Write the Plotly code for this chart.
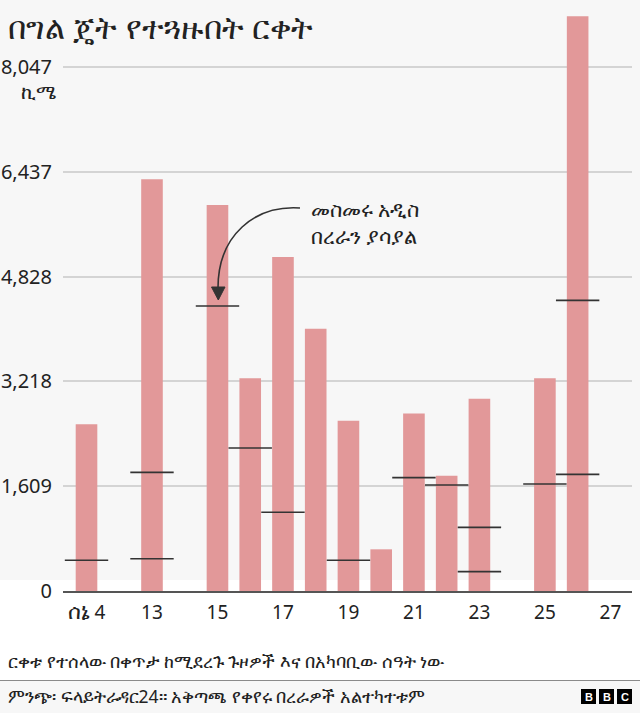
import plotly.graph_objects as go

# ---- data ----
slots = ["4", "…", "13", "14", "15", "16", "17", "18", "19", "20", "21", "22", "23", "24", "25", "26", "27"]
bar_days = ["4", "13", "15", "16", "17", "18", "19", "20", "21", "22", "23", "25", "26"]
bar_km = [2559, 6320, 5925, 3265, 5127, 4027, 2615, 640, 2727, 1770, 2952, 3265, 8826]
break_days = ["4", "13", "13", "15", "16", "17", "19", "21", "22", "23", "23", "25", "26", "26"]
break_km = [471, 496, 1822, 4375, 2195, 1208, 471, 1740, 1627, 297, 977, 1642, 1791, 4462]
xtick_vals = ["4", "13", "15", "17", "19", "21", "23", "25", "27"]
xtick_text = ["<span style='font-size:22px'>ሰኔ</span> 4", "13", "15", "17", "19", "21", "23", "25", "27"]
ytick_vals = [0, 1609, 3218, 4828, 6437, 8047]
ytick_text = ["0", "1,609", "3,218", "4,828", "6,437", "8,047"]

title = "በግል ጄት የተጓዙበት ርቀት"
unit = "ኪሜ"
note = "መስመሩ አዲስ<br>በረራን ያሳያል"
foot1 = "ርቀቱ የተሰላው በቀጥታ ከሚደረጉ ጉዞዎች እና በአካባቢው ሰዓት ነው"
foot2 = "ምንጭ፡ ፍላይትራዳር24። አቅጣጫ የቀየሩ በረራዎች አልተካተቱም"

W, H = 640, 713
L, R, T, B = 63, 8, 16, 122
PW, PH = W - L - R, H - T - B
FONT = "Noto Sans, DejaVu Sans, sans-serif"


def px(x, y):
    return (x - L) / PW, (H - B - y) / PH


fig = go.Figure()
fig.add_trace(go.Bar(x=bar_days, y=bar_km, marker=dict(color="#e29899", line=dict(width=0)),
                     hoverinfo="skip"))
fig.add_trace(go.Scatter(x=break_days, y=break_km, mode="markers",
                         marker=dict(symbol="line-ew", size=31, line=dict(color="#333333", width=1.6)),
                         hoverinfo="skip"))

shapes = []
x0, y0 = px(-5, 580)
x1, y1 = px(W + 5, 680)
shapes.append(dict(type="rect", xref="paper", yref="paper", x0=x0, x1=x1, y0=y0, y1=y1,
                   fillcolor="white", line=dict(width=0), layer="below"))
sx0, sy = px(0, 680.5)
sx1, _ = px(W, 680.5)
shapes.append(dict(type="line", xref="paper", yref="paper", x0=sx0, x1=sx1, y0=sy, y1=sy,
                   line=dict(color="#8a8a8a", width=1.2)))
p0 = px(300, 208); c1 = px(255, 205); c2 = px(218, 235); p3 = px(218, 288)
shapes.append(dict(type="path", xref="paper", yref="paper",
                   path=f"M {p0[0]},{p0[1]} C {c1[0]},{c1[1]} {c2[0]},{c2[1]} {p3[0]},{p3[1]}",
                   line=dict(color="#333333", width=1.6)))
a = px(211.5, 287); b = px(225, 287); c = px(218.3, 300)
shapes.append(dict(type="path", xref="paper", yref="paper",
                   path=f"M {a[0]},{a[1]} L {b[0]},{b[1]} L {c[0]},{c[1]} Z",
                   fillcolor="#333333", line=dict(color="#333333", width=1)))
annotations = []
for i, letter in enumerate(["B", "B", "C"]):
    lx0, ly0 = px(581 + i * 18, 689)
    lx1, ly1 = px(596 + i * 18, 704)
    shapes.append(dict(type="rect", xref="paper", yref="paper", x0=lx0, x1=lx1, y0=ly0, y1=ly1,
                       fillcolor="black", line=dict(width=0)))
    cx, cy = px(588.5 + i * 18, 696.5)
    annotations.append(dict(text=f"<b>{letter}</b>", x=cx, y=cy, xref="paper", yref="paper",
                            showarrow=False, xanchor="center", yanchor="middle",
                            font=dict(family="Liberation Sans, Arial", size=11, color="white")))

tx, ty = px(6, 26)
annotations.append(dict(text=title, x=tx, y=ty, xref="paper", yref="paper", showarrow=False,
                        xanchor="left", yanchor="middle", font=dict(family=FONT, size=32, color="#222222")))
ux, uy = px(58, 91)
annotations.append(dict(text=unit, x=ux, y=uy, xref="paper", yref="paper", showarrow=False,
                        xanchor="right", yanchor="middle", font=dict(family=FONT, size=20, color="#222222")))
nx, ny = px(309, 222)
annotations.append(dict(text=note, x=nx, y=ny, xref="paper", yref="paper", showarrow=False,
                        xanchor="left", yanchor="middle", align="left",
                        font=dict(family=FONT, size=21, color="#222222")))
f1x, f1y = px(6, 661)
annotations.append(dict(text=foot1, x=f1x, y=f1y, xref="paper", yref="paper", showarrow=False,
                        xanchor="left", yanchor="middle", font=dict(family=FONT, size=17.5, color="#222222")))
f2x, f2y = px(6, 696)
annotations.append(dict(text=foot2, x=f2x, y=f2y, xref="paper", yref="paper", showarrow=False,
                        xanchor="left", yanchor="middle", font=dict(family=FONT, size=17.5, color="#222222")))

fig.update_layout(
    width=W, height=H, margin=dict(l=L, r=R, t=T, b=B, pad=0, autoexpand=False),
    paper_bgcolor="#f7f7f7", plot_bgcolor="rgba(0,0,0,0)",
    showlegend=False, bargap=0.34,
    font=dict(family=FONT, size=18, color="#222222"),
    shapes=shapes, annotations=annotations,
    xaxis=dict(type="category", categoryorder="array", categoryarray=slots,
               range=[-0.718, 16.66], tickvals=xtick_vals, ticktext=xtick_text,
               showgrid=False, showline=True, linecolor="#555555", linewidth=2,
               ticks="outside", ticklen=3, tickcolor="rgba(0,0,0,0)", automargin=False,
               tickfont=dict(size=19, color="#222222"), fixedrange=True),
    yaxis=dict(range=[0, 8828], tickvals=ytick_vals, ticktext=ytick_text,
               showgrid=True, gridcolor="#d4d4d4", gridwidth=1.5, zeroline=False,
               ticks="outside", ticklen=6, tickcolor="rgba(0,0,0,0)", automargin=False,
               tickfont=dict(size=20, color="#222222"), fixedrange=True),
)
fig.write_html("out.html")
